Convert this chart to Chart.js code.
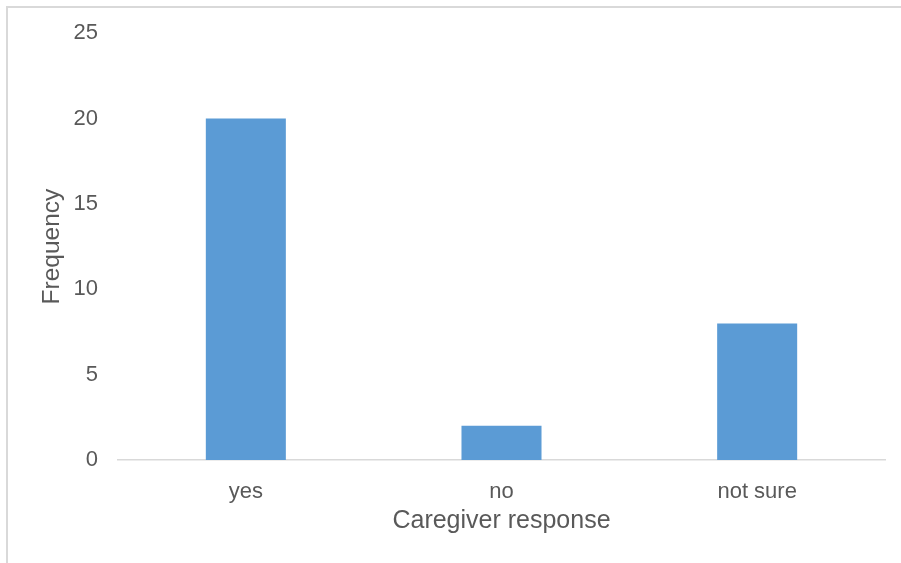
<!DOCTYPE html>
<html>
<head>
<meta charset="utf-8">
<script src="https://cdn.jsdelivr.net/npm/chart.js@4"></script>
<style>
  html, body { margin: 0; padding: 0; background: #fff; }
  #wrap { position: relative; width: 901px; height: 563px; }
</style>
</head>
<body>
<div id="wrap"><canvas id="respostaChart" width="901" height="563"></canvas></div>
<script>
// Respostas dos cuidadores
const categorias = ['yes', 'no', 'not sure'];
const frequencias = [20, 2, 8];
const ticksY = [0, 5, 10, 15, 20, 25];

const corTexto = '#595959';
const corLinha = '#d9d9d9';

// moldura cinza (só esquerda e topo ficam dentro do quadro)
const moldura = {
  id: 'moldura',
  beforeDraw(chart) {
    const ctx = chart.ctx;
    ctx.save();
    ctx.strokeStyle = corLinha;
    ctx.lineWidth = 2;
    ctx.beginPath();
    ctx.moveTo(7, chart.height);
    ctx.lineTo(7, 7);
    ctx.lineTo(chart.width, 7);
    ctx.stroke();
    ctx.restore();
  }
};

new Chart(document.getElementById('respostaChart').getContext('2d'), {
  type: 'bar',
  data: {
    labels: categorias,
    datasets: [{
      label: 'Frequency',
      data: frequencias,
      backgroundColor: '#5b9bd5',
      borderWidth: 0,
      barPercentage: 0.313,
      categoryPercentage: 1
    }]
  },
  options: {
    responsive: false,
    animation: false,
    layout: { padding: { left: 0, top: 33, right: 16, bottom: 0 } },
    plugins: {
      legend: { display: false },
      tooltip: { enabled: false }
    },
    scales: {
      y: {
        min: 0,
        max: 25,
        afterBuildTicks(scale) {
          scale.ticks = ticksY.map(v => ({ value: v }));
        },
        afterFit(scale) { scale.width = 118; },
        grid: { display: false, drawTicks: false },
        border: { display: false },
        ticks: { color: corTexto, padding: 20, font: { family: 'Liberation Sans', size: 22 } },
        title: {
          display: true,
          text: 'Frequency',
          color: corTexto,
          font: { family: 'Liberation Sans', size: 24.5 },
          padding: { top: 37.3, bottom: 0 }
        }
      },
      x: {
        afterFit(scale) { scale.height = 103; },
        grid: { display: false, drawTicks: false },
        border: { display: true, color: corLinha, width: 1.5 },
        ticks: { color: corTexto, padding: 19, font: { family: 'Liberation Sans', size: 22 } },
        title: {
          display: true,
          text: 'Caregiver response',
          color: corTexto,
          font: { family: 'Liberation Sans', size: 25 },
          padding: { top: 0, bottom: 27 }
        }
      }
    }
  },
  plugins: [moldura]
});
</script>
</body>
</html>
